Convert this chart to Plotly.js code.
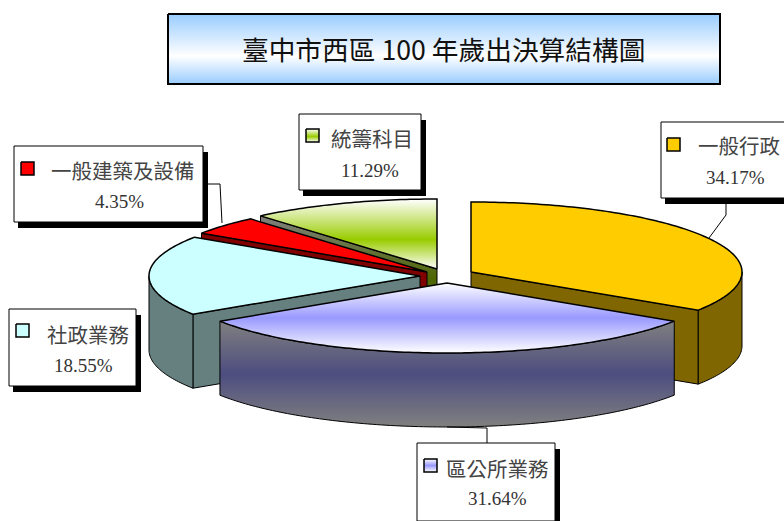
<!DOCTYPE html>
<html>
<head>
<meta charset="utf-8">
<script src="https://cdn.plot.ly/plotly-3.0.1.min.js"></script>
<style>html,body{margin:0;padding:0;background:#fff;}#chart{width:784px;height:521px;}</style>
</head>
<body>
<div id="chart"></div>
<script>
// ---- data ----
const chartTitle = '臺中市西區 100 年歲出決算結構圖';
const categories = ['一般行政', '區公所業務', '社政業務', '一般建築及設備', '統籌科目'];
const shares = [34.17, 31.64, 18.55, 4.35, 11.29];

// ---- styling ----
const topColours = [
  [[0, '#FFCC00'], [1, '#FFCC00']],
  [[0, '#FFFFFF'], [0.5, '#9999FF'], [1, '#FFFFFF']],
  [[0, '#CCFFFF'], [1, '#CCFFFF']],
  [[0, '#FF0000'], [1, '#FF0000']],
  [[0, '#FFFFFF'], [0.42, '#99CC00'], [1, '#FFFFFF']]
];
const wallColours = [
  [[0, '#806600'], [1, '#806600']],
  [[0, '#808080'], [0.5, '#4D4D80'], [1, '#808080']],
  [[0, '#668080'], [1, '#668080']],
  [[0, '#800000'], [1, '#800000']],
  [[0, '#808080'], [0.5, '#4D6600'], [1, '#808080']]
];
const hubs = [[471, 272], [447, 283], [420, 276], [427, 272], [437, 269]];
const radiusX = 271, radiusY = 70, depth = 74;
const drawOrder = [4, 3, 2, 0, 1];
const boxes = [[661, 122, 790, 198], [417, 443, 555, 521], [9, 309, 136, 386], [14, 146, 203, 222], [299, 114, 421, 190]];
const keys = [[667, 138], [424, 459], [16, 324], [21, 162], [306, 129]];
const nameAt = [[739, 145], [497, 468], [88, 334], [123, 170], [372, 138]];
const shareAt = [[735, 177], [497, 498], [83, 365], [119, 201], [370, 170]];
const leaders = ['M726,204 L726,215 L709,238', 'M447,427 L487,428 L487,443', 'M208,184 L220,184 L222,223'];
const cjk = '"Noto Sans CJK TC","Noto Sans CJK SC",sans-serif';

// ---- geometry through the data axes ----
const rad = d => d * Math.PI / 180;
const rim = (hub, deg, drop) => [hub[0] + radiusX * Math.sin(rad(deg)), hub[1] - radiusY * Math.cos(rad(deg)) + drop];
function poly(pts, scale, lw) {
  return {
    type: 'scatter', mode: 'lines', x: pts.map(p => p[0]), y: pts.map(p => p[1]),
    fill: 'toself', fillcolor: scale[0][1],
    fillgradient: {type: 'vertical', colorscale: scale},
    line: {color: '#000', width: lw, simplify: false}, hoverinfo: 'skip', showlegend: false
  };
}
const total = shares.reduce((a, b) => a + b, 0);
let running = 0;
const spans = shares.map(v => { const s = running; running += v / total * 360; return [s, running]; });

const traces = [];
drawOrder.forEach(i => {
  const [a0, a1] = spans[i], hub = hubs[i];
  const radial = deg => [[hub[0], hub[1]], rim(hub, deg, 0), rim(hub, deg, depth), [hub[0], hub[1] + depth], [hub[0], hub[1]]];
  if (Math.sin(rad(a0)) < -0.01) traces.push(poly(radial(a0), wallColours[i], 1));
  if (Math.sin(rad(a1)) > 0.01) traces.push(poly(radial(a1), wallColours[i], 1));
  const w0 = Math.max(a0, 90), w1 = Math.min(a1, 270);
  if (w1 > w0) {
    const up = [], down = [];
    for (let d = w0; d < w1; d += 1) { up.push(rim(hub, d, 0)); down.unshift(rim(hub, d, depth)); }
    up.push(rim(hub, w1, 0)); down.unshift(rim(hub, w1, depth));
    const ring = up.concat(down); ring.push(ring[0]);
    traces.push(poly(ring, wallColours[i], 1));
  }
  const top = [[hub[0], hub[1]]];
  for (let d = a0; d < a1; d += 1) top.push(rim(hub, d, 0));
  top.push(rim(hub, a1, 0)); top.push([hub[0], hub[1]]);
  traces.push(poly(top, topColours[i], 1.5));
});

// title panel
traces.push(poly([[168, 14], [720, 14], [720, 84], [168, 84], [168, 14]],
  [[0, '#99CCFF'], [0.4, '#FFFFFF'], [1, '#99CCFF']], 2));

// legend keys
keys.forEach((k, i) => {
  traces.push(poly([[k[0], k[1]], [k[0] + 13, k[1]], [k[0] + 13, k[1] + 13], [k[0], k[1] + 13], [k[0], k[1]]], topColours[i], 1.5));
});

const shapes = [];
boxes.forEach(b => {
  shapes.push({type: 'rect', layer: 'below', xref: 'x', yref: 'y', x0: b[0] + 4, y0: b[1] + 6, x1: b[2] + 5, y1: b[3] + 6, fillcolor: '#000', line: {width: 0}});
  shapes.push({type: 'rect', layer: 'below', xref: 'x', yref: 'y', x0: b[0], y0: b[1], x1: b[2], y1: b[3], fillcolor: '#fff', line: {color: '#000', width: 1}});
});
leaders.forEach(p => shapes.push({type: 'path', layer: 'above', xref: 'x', yref: 'y', path: p, line: {color: '#000', width: 1}}));

const annotations = [{
  text: chartTitle, x: 443, y: 48, xref: 'x', yref: 'y', showarrow: false, xanchor: 'center', yanchor: 'middle',
  font: {family: cjk, size: 26.7, color: '#111'}
}];
categories.forEach((c, i) => {
  annotations.push({text: c, x: nameAt[i][0], y: nameAt[i][1], xref: 'x', yref: 'y', showarrow: false, xanchor: 'center', yanchor: 'middle',
    font: {family: cjk, size: 20.5, color: '#444'}});
  annotations.push({text: shares[i].toFixed(2) + '%', x: shareAt[i][0], y: shareAt[i][1], xref: 'x', yref: 'y', showarrow: false, xanchor: 'center', yanchor: 'middle',
    font: {family: '"Liberation Serif",serif', size: 19, color: '#333'}});
});

const layout = {
  width: 784, height: 521, margin: {l: 0, r: 0, t: 0, b: 0},
  paper_bgcolor: '#fff', plot_bgcolor: '#fff', showlegend: false,
  xaxis: {range: [0, 784], visible: false, fixedrange: true},
  yaxis: {range: [521, 0], visible: false, fixedrange: true},
  shapes, annotations
};
Plotly.newPlot('chart', traces, layout, {displayModeBar: false, staticPlot: true});
</script>
</body>
</html>
